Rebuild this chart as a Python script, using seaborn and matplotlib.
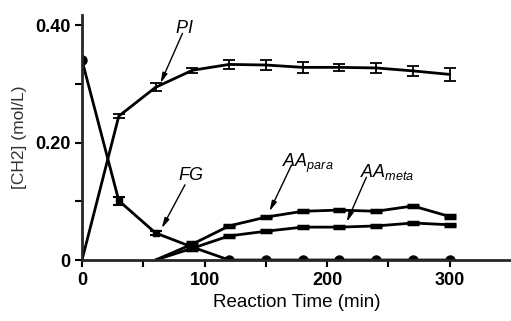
import matplotlib
matplotlib.use("Agg")
import matplotlib.pyplot as plt
import seaborn as sns
import pandas as pd
import numpy as np

# ---- data ----
time_pi = [0, 30, 60, 90, 120, 150, 180, 210, 240, 270, 300]
pi_vals = [0.0, 0.245, 0.294, 0.323, 0.333, 0.332, 0.328, 0.328, 0.327, 0.322, 0.316]
pi_err = [0.0, 0.003, 0.007, 0.004, 0.008, 0.008, 0.009, 0.006, 0.008, 0.009, 0.011]

time_fg = [0, 30, 60, 90, 120, 150, 180, 210, 240, 270, 300]
fg_vals = [0.340, 0.101, 0.046, 0.022, 0.0, 0.0, 0.0, 0.0, 0.0, 0.0, 0.0]
fg_err = [0.0, 0.007, 0.004, 0.006, 0.0, 0.0, 0.0, 0.0, 0.0, 0.0, 0.0]

time_aa = [60, 90, 120, 150, 180, 210, 240, 270, 300]
aa_para = [0.0, 0.027, 0.058, 0.073, 0.083, 0.085, 0.083, 0.092, 0.074]
aa_meta = [0.0, 0.020, 0.041, 0.049, 0.056, 0.056, 0.058, 0.063, 0.060]
aa_err = [0.0, 0.003, 0.002, 0.002, 0.002, 0.002, 0.002, 0.002, 0.002]

x_ticks = [0, 100, 200, 300]
y_ticks = [0, 0.20, 0.40]
y_tick_labels = ["0", "0.20", "0.40"]

sns.set_style("ticks")
plt.rcParams['font.family'] = ['Liberation Sans', 'DejaVu Sans']
plt.rcParams['mathtext.fontset'] = 'custom'
plt.rcParams['mathtext.rm'] = 'Liberation Sans'
plt.rcParams['mathtext.it'] = 'Liberation Sans:italic'
plt.rcParams['text.color'] = 'black'
plt.rcParams['axes.labelcolor'] = 'black'

fig = plt.figure(figsize=(5.11, 3.21), dpi=100)
ax = fig.add_axes([0.1605, 0.19, 0.8395, 0.763])

df = pd.concat([
    pd.DataFrame({"t": time_pi, "c": pi_vals, "s": "PI"}),
    pd.DataFrame({"t": time_fg, "c": fg_vals, "s": "FG"}),
    pd.DataFrame({"t": time_aa, "c": aa_para, "s": "para"}),
    pd.DataFrame({"t": time_aa, "c": aa_meta, "s": "meta"}),
])
sns.lineplot(data=df, x="t", y="c", hue="s", palette=["black"] * 4,
             linewidth=2, legend=False, ax=ax, estimator=None, sort=False)

# error bars PI
ax.errorbar(time_pi[1:], pi_vals[1:], yerr=pi_err[1:], fmt="none", ecolor="black",
            elinewidth=1.3, capsize=4, capthick=1.3)
# FG markers
ax.plot([time_fg[0]] + time_fg[4:], [fg_vals[0]] + fg_vals[4:], "o", color="black",
        markersize=6.5)
ax.errorbar(time_fg[1:4], fg_vals[1:4], yerr=fg_err[1:4], fmt="none", ecolor="black",
            elinewidth=2.5, capsize=4, capthick=1.5)
ax.plot(time_fg[1:4], fg_vals[1:4], "s", color="black", markersize=5)
# AA markers
for vals in (aa_para, aa_meta):
    ax.errorbar(time_aa[1:], vals[1:], yerr=aa_err[1:], fmt="none", ecolor="black",
                elinewidth=2.5, capsize=4, capthick=2.5)

ax.set_xlim(0, 350)
ax.set_ylim(0, 0.417)
ax.set_xticks(x_ticks)
ax.set_xticks([50, 150, 250], minor=True)
ax.set_yticks(y_ticks)
ax.set_yticklabels(y_tick_labels)
ax.set_yticks([0.1, 0.3], minor=True)
ax.tick_params(axis="both", which="both", direction="out", length=5, width=1.5,
               labelsize=13, colors="black")
for lab in ax.get_xticklabels() + ax.get_yticklabels():
    lab.set_fontweight("bold")
for sp in ("top", "right"):
    ax.spines[sp].set_visible(False)
for sp in ("left", "bottom"):
    ax.spines[sp].set_linewidth(2)
ax.set_xlabel("Reaction Time (min)", fontsize=13.5, labelpad=4)
ax.set_ylabel("[CH2] (mol/L)", fontsize=12.5, labelpad=6, color="#333333")

arrow = dict(arrowstyle="-|>,head_width=0.15,head_length=0.6", color="black", lw=1,
             mutation_scale=10, shrinkA=0, shrinkB=0)
labels = [
    ("$\\mathit{PI}$", (76, 0.409), (82, 0.386), (64, 0.301)),
    ("$\\mathit{FG}$", (78, 0.158), (84, 0.128), (65, 0.054)),
    ("$\\mathit{AA}_{\\mathit{para}}$", (163, 0.184), (171, 0.162), (153, 0.083)),
    ("$\\mathit{AA}_{\\mathit{meta}}$", (227, 0.167), (232, 0.141), (216, 0.065)),
]
for txt, pos, tail, tip in labels:
    ax.text(pos[0], pos[1], txt, fontsize=13, ha="left", va="top")
    ax.annotate("", xy=tip, xytext=tail, arrowprops=arrow)

fig.savefig("out.png", dpi=100)
